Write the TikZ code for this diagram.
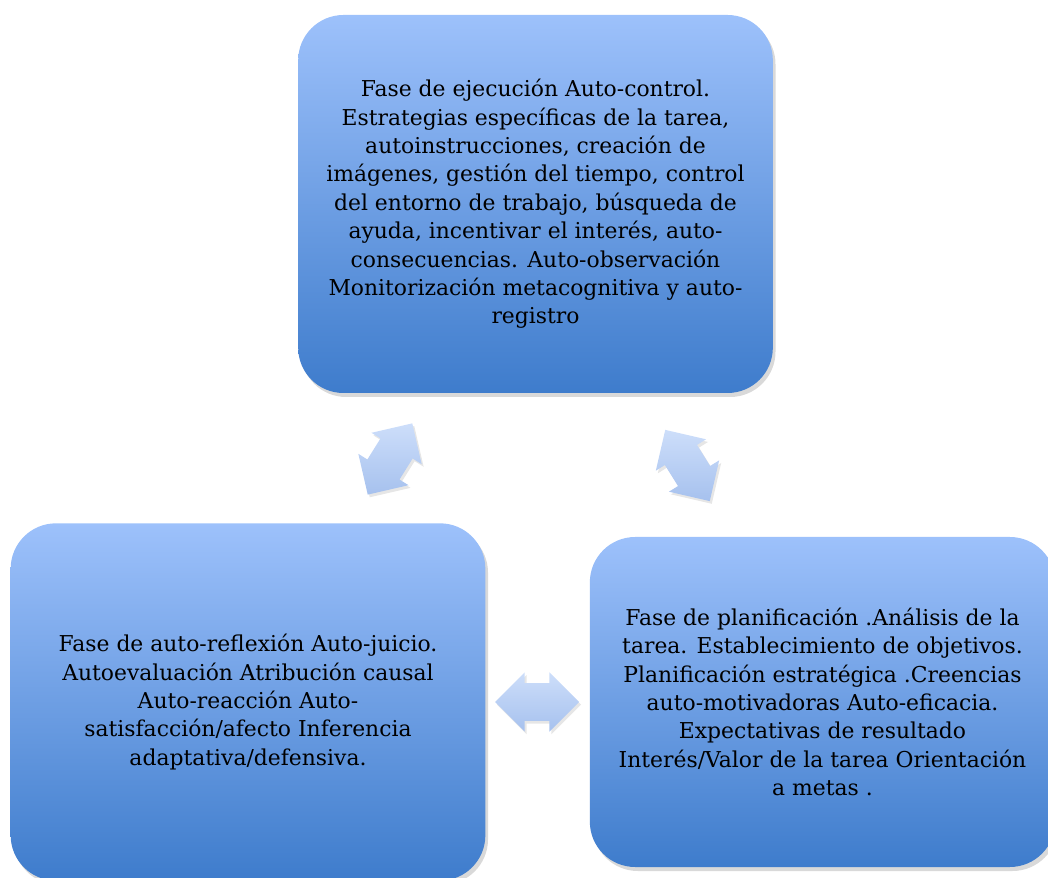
\documentclass[tikz,border=0pt]{standalone}
\usepackage{fontspec}
\setmainfont{DejaVu Serif}
\usetikzlibrary{shapes.arrows, shadows, positioning}
\definecolor{phasetop}{RGB}{157,193,251}
\definecolor{phasebottom}{RGB}{62,124,204}
\definecolor{arrowtop}{RGB}{205,222,250}
\definecolor{arrowbottom}{RGB}{166,193,238}

\begin{document}
\begin{tikzpicture}[
    x=0.75pt, y=0.75pt,
    phase/.style={rectangle, rounded corners=34pt, inner sep=0pt, align=center, top color=phasetop, bottom color=phasebottom, drop shadow={shadow xshift=2pt, shadow yshift=-3pt, opacity=0.3}, font=\fontsize{16.4}{21.3}\selectfont},
    cyclearrow/.style={double arrow, double arrow tip angle=90, double arrow head extend=8pt, minimum height=63pt, inner xsep=0pt, inner ysep=14pt, top color=arrowtop, bottom color=arrowbottom, drop shadow={shadow xshift=1.5pt, shadow yshift=-2pt, opacity=0.2}}
]
    \useasboundingbox (0,0) rectangle (1048,877);

    % Phases
    \node[phase, minimum width=356pt, minimum height=283.5pt] (exec) at (535.5,673) {Fase de ejecución Auto-control.\\Estrategias específicas de la tarea,\\autoinstrucciones, creación de\\imágenes, gestión del tiempo, control\\del entorno de trabajo, búsqueda de\\ayuda, incentivar el interés, auto-\\consecuencias. Auto-observación\\Monitorización metacognitiva y auto-\\registro};
    \node[phase, minimum width=356pt, minimum height=268pt] (reflex) at (248,175) {Fase de auto-reflexión Auto-juicio.\\Autoevaluación Atribución causal\\Auto-reacción Auto-\\satisfacción/afecto Inferencia\\adaptativa/defensiva.};
    \node[phase, minimum width=349pt, minimum height=247.5pt] (plan) at (822.5,175) {Fase de planificación .Análisis de la\\tarea. Establecimiento de objetivos.\\Planificación estratégica .Creencias\\auto-motivadoras Auto-eficacia.\\Expectativas de resultado\\Interés/Valor de la tarea Orientación\\a metas .};

    % Cycle arrows
    \node[cyclearrow, rotate=58] (left) at (390,418) {};
    \node[cyclearrow, rotate=-58] (right) at (687.5,411.5) {};
    \node[cyclearrow] (bottom) at (537,175) {};

\end{tikzpicture}
\end{document}
